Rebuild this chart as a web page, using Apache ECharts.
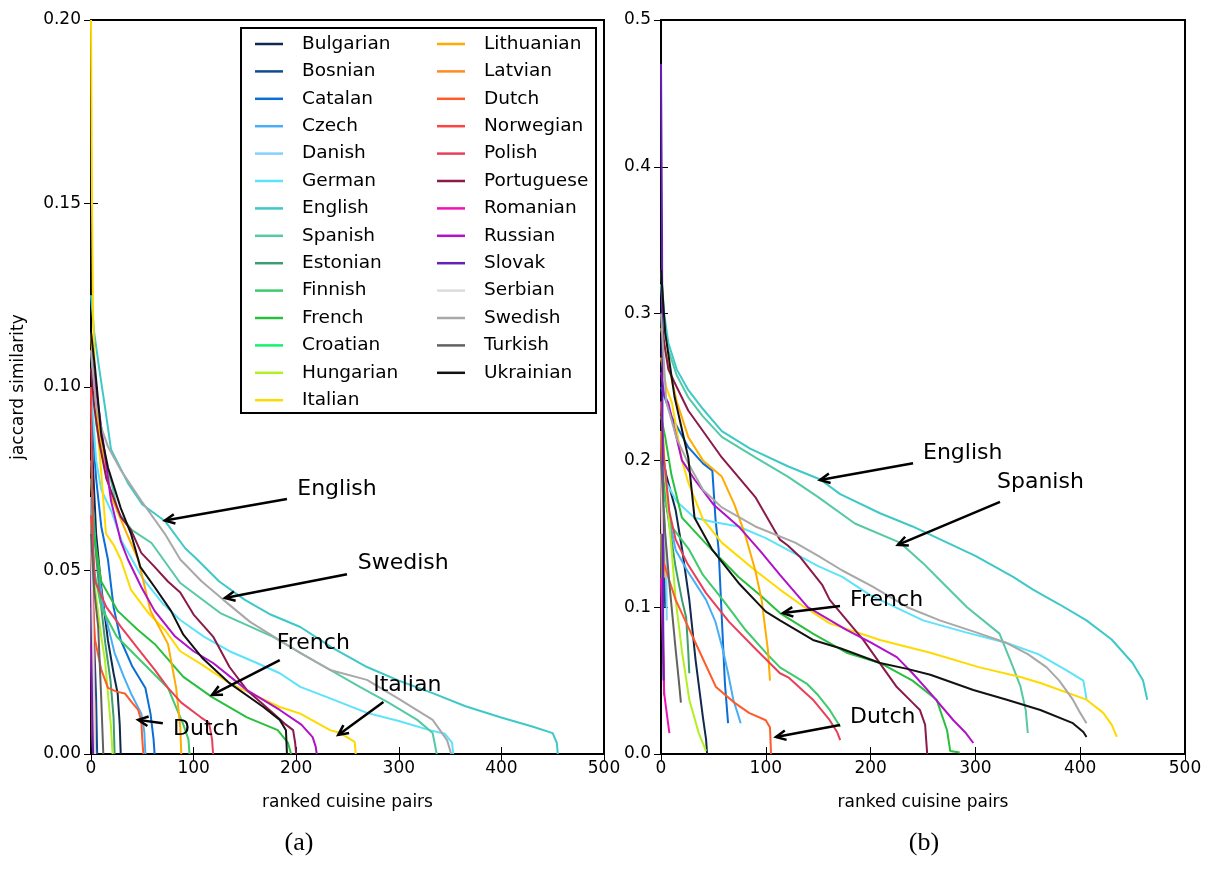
<!DOCTYPE html>
<html><head><meta charset="utf-8">
<script src="https://cdn.jsdelivr.net/npm/echarts@6/dist/echarts.min.js"></script>
<style>html,body{margin:0;padding:0;background:#fff}#c{width:1209px;height:886px}</style>
</head><body><div id="c"></div>
<script>
const names = ['Bulgarian','Bosnian','Catalan','Czech','Danish','German','English','Spanish','Estonian','Finnish','French','Croatian','Hungarian','Italian','Lithuanian','Latvian','Dutch','Norwegian','Polish','Portuguese','Romanian','Russian','Slovak','Serbian','Swedish','Turkish','Ukrainian'];
const colors = ['#10294f','#0e4d8e','#0a6ed6','#4aaef5','#80d2fb','#5ce3fa','#3ec8c8','#55c9a6','#3f9b70','#3fca6b','#28c03c','#12f26c','#b2f023','#ffda00','#ffab00','#ff8a22','#ff5a2a','#ff4343','#e8405a','#8a1a4a','#f012b2','#b012c8','#6422b8','#dcdcdc','#a8a8a8','#616161','#121212'];
const xTicks = [0,100,200,300,400,500];
const yTicksA = [0,0.05,0.10,0.15,0.20];
const yTicksB = [0,0.1,0.2,0.3,0.4,0.5];

// panel (a): [rank, jaccard]
const A_Bulgarian = [[0,0.09],[5,0.06],[10,0.0455],[16.5,0.031],[22,0.022],[26,0.0165],[28,0.008],[29,0]];
const A_Bosnian = [[0,0.07],[2,0.04],[5,0.015],[6,0]];
const A_Catalan = [[0,0.095],[5,0.075],[10,0.062],[16.5,0.053],[22,0.04],[29,0.031],[40,0.024],[53,0.018],[58,0.011],[61,0.004],[62,0]];
const A_Czech = [[0,0.075],[5,0.055],[12,0.04],[23,0.0275],[32,0.021],[39,0.0165],[49,0.011],[52,0.006],[53,0]];
const A_Danish = [[0,0.07],[1,0.04],[2,0.015],[3,0]];
const A_German = [[0,0.1],[5,0.08],[10,0.072],[20,0.066],[30,0.058],[50,0.048],[70,0.041],[87,0.0365],[110,0.032],[135,0.028],[160,0.025],[184,0.022],[204,0.0183],[230,0.0155],[269,0.0112],[300,0.009],[330,0.0065],[345,0.0055],[352,0.003],[353,0]];
const A_English = [[0,0.125],[3,0.115],[8,0.105],[13.6,0.0946],[19.5,0.083],[36,0.0738],[50,0.068],[72,0.0635],[92,0.056],[101,0.0537],[125,0.047],[150,0.042],[175,0.038],[204,0.0346],[235,0.029],[269,0.0237],[300,0.02],[333,0.0166],[365,0.013],[399,0.010],[430,0.0075],[450,0.0057],[454,0.003],[455,0]];
const A_Spanish = [[0,0.11],[5,0.09],[12,0.08],[20,0.074],[26,0.066],[40,0.061],[59,0.0575],[87,0.0466],[126,0.0384],[177,0.032],[220,0.025],[262,0.0183],[290,0.014],[318,0.0093],[333,0.0057],[337,0]];
const A_Estonian = [[0,0.08],[3,0.06],[8,0.045],[14,0.03],[19,0.02],[22,0.01],[23,0]];
const A_Finnish = [[0,0.065],[3,0.05],[10,0.04],[25,0.032],[50,0.025],[75,0.018],[90,0.008],[95,0.004],[96,0]];
const A_French = [[0,0.075],[3,0.06],[10,0.047],[26,0.039],[45,0.034],[62,0.030],[90,0.021],[118,0.0155],[152,0.010],[182,0.0065],[192,0.003],[195,0]];
const A_Croatian = [[0,0.04],[1,0.02],[2,0]];
const A_Hungarian = [[0,0.065],[4,0.045],[10,0.032],[13.6,0.0256],[17,0.015],[19.5,0.0074],[21,0]];
const A_Italian = [[0,0.2],[1,0.15],[2,0.12],[5,0.093],[10,0.0766],[14.6,0.06],[22,0.057],[29,0.053],[39,0.0447],[56,0.0384],[72,0.0338],[87,0.028],[110,0.024],[135,0.0193],[160,0.016],[184,0.0128],[204,0.011],[233,0.0065],[243,0.0057],[257,0.0033],[258,0]];
const A_Lithuanian = [[0,0.115],[3,0.1],[10,0.085],[20,0.07],[35,0.06],[46,0.053],[58,0.039],[75,0.030],[83,0.018],[87,0.0074],[88,0]];
const A_Latvian = [[0,0.05],[1,0.02],[2,0]];
const A_Dutch = [[0,0.055],[2,0.04],[4,0.031],[10,0.023],[16.5,0.018],[25,0.017],[33,0.0165],[40,0.014],[46,0.012],[49,0.009],[50,0.004],[51,0]];
const A_Norwegian = [[0,0.1],[2,0.05],[3,0.02],[4,0]];
const A_Polish = [[0,0.065],[4,0.047],[15,0.04],[29,0.0347],[45,0.029],[62,0.023],[75,0.018],[88,0.014],[107,0.010],[115,0.0085],[118,0.004],[119,0]];
const A_Portuguese = [[0,0.105],[3,0.095],[8,0.085],[15,0.075],[29,0.0646],[39,0.061],[49,0.0548],[62,0.051],[75,0.047],[87,0.044],[100,0.038],[119,0.032],[135,0.0237],[152,0.0174],[174,0.012],[190,0.008],[197,0.0065],[199,0.003],[200,0]];
const A_Romanian = [[0,0.03],[1,0.01],[2,0]];
const A_Russian = [[0,0.11],[4,0.101],[10,0.089],[19.5,0.069],[29,0.058],[36,0.053],[49,0.0455],[62,0.039],[82,0.032],[100,0.028],[119,0.0248],[152,0.0174],[184,0.012],[205,0.008],[216,0.0046],[219,0.002],[220,0]];
const A_Slovak = [[0,0.05],[1,0.02],[2,0]];
const A_Serbian = [[0,0.06],[2,0.03],[4,0]];
const A_Swedish = [[0,0.11],[5,0.095],[10,0.089],[16.6,0.0837],[29,0.0774],[49,0.069],[72,0.06],[87,0.053],[108,0.047],[129,0.042],[155,0.036],[184,0.031],[204,0.0275],[233,0.0229],[269,0.0202],[300,0.015],[333,0.0093],[347,0.0038],[350,0.001],[351,0]];
const A_Turkish = [[0,0.06],[3,0.045],[7,0.0346],[10,0.015],[12,0]];
const A_Ukrainian = [[0,0.115],[4,0.105],[10,0.087],[16.6,0.078],[29,0.067],[39,0.06],[48,0.051],[62,0.0455],[78,0.039],[90,0.0325],[109,0.026],[135,0.0193],[168,0.0128],[184,0.0093],[190,0.0065],[191,0]];

// panel (b): [rank, jaccard]
const B_Bulgarian = [[0,0.21],[5,0.19],[14,0.166],[20,0.14],[27,0.105],[33,0.064],[40,0.025],[43,0.01],[44,0]];
const B_Bosnian = [[0,0.2],[2,0.15],[4,0.1]];
const B_Catalan = [[0,0.25],[10,0.23],[26,0.209],[40,0.198],[49,0.193],[52,0.16],[55,0.139],[58,0.093],[61,0.048],[64,0.021]];
const B_Czech = [[0,0.2],[5,0.17],[14,0.139],[25,0.125],[43,0.105],[52,0.09],[59,0.071],[64,0.055],[69,0.037],[73,0.028],[76,0.021]];
const B_Danish = [[0,0.2],[2,0.17],[5,0.139],[5.5,0.091]];
const B_German = [[0,0.2],[5,0.185],[15,0.172],[32,0.161],[50,0.158],[74,0.155],[100,0.147],[121,0.139],[150,0.128],[173,0.1206],[200,0.108],[250,0.091],[290,0.083],[330,0.0756],[360,0.068],[387,0.057],[403,0.05],[405,0.042],[406,0.037]];
const B_English = [[0,0.33],[3,0.3],[7,0.28],[15,0.262],[26,0.248],[40,0.235],[58,0.22],[85,0.208],[121,0.196],[152,0.187],[171,0.177],[209,0.164],[240,0.155],[273,0.144],[300,0.135],[336,0.1206],[355,0.112],[380,0.102],[406,0.091],[430,0.078],[450,0.062],[460,0.05],[464,0.037]];
const B_Spanish = [[0,0.32],[3,0.29],[7,0.275],[15,0.258],[26,0.243],[40,0.23],[58,0.216],[90,0.202],[121,0.189],[150,0.175],[185,0.157],[228,0.144],[250,0.13],[266,0.1185],[292,0.10],[323,0.082],[336,0.059],[343,0.046],[348,0.03],[350,0.0143]];
const B_Estonian = [[0,0.2],[5,0.17],[14,0.127],[20,0.105],[24,0.093],[26,0.07],[27,0.055]];
const B_Finnish = [[0,0.2],[3,0.175],[10,0.155],[27,0.139],[40,0.122],[59,0.105],[80,0.085],[100,0.069],[113.5,0.059],[139,0.048],[150,0.04],[161,0.030],[168,0.022],[171,0.0185]];
const B_French = [[0,0.23],[4,0.216],[10,0.19],[20,0.161],[42,0.144],[74,0.1206],[95,0.108],[113.5,0.096],[145,0.082],[177,0.069],[209,0.062],[240,0.050],[263,0.037],[273,0.016],[276,0.002],[285,0.001]];
const B_Croatian = [[0,0.15],[1,0.1]];
const B_Hungarian = [[0,0.24],[5,0.18],[10,0.14],[14,0.105],[20,0.07],[27,0.037],[36,0.0143],[43,0.002]];
const B_Italian = [[0,0.27],[5,0.25],[10.5,0.239],[20,0.2],[26,0.185],[40,0.16],[58,0.144],[90,0.125],[113.5,0.112],[137,0.1],[161,0.089],[209,0.0777],[257,0.069],[304,0.059],[343,0.0525],[362,0.0484],[406,0.037],[422,0.028],[430,0.02],[435,0.0116]];
const B_Lithuanian = [[0,0.29],[4,0.275],[15,0.24],[26,0.216],[40,0.2],[58,0.189],[70,0.17],[80,0.15],[90,0.125],[96,0.105],[102,0.071],[104,0.050]];
const B_Latvian = [[0,0.22],[1,0.17],[3,0.12]];
const B_Dutch = [[0,0.2],[2,0.132],[8,0.118],[14,0.105],[33,0.0756],[52.5,0.0456],[70,0.035],[84,0.028],[100,0.023],[104,0.018],[105,0]];
const B_Norwegian = [[0,0.2],[1,0.13],[2,0.08],[3,0.04]];
const B_Polish = [[0,0.24],[3,0.2],[8,0.165],[14,0.146],[25,0.13],[43,0.1096],[65,0.09],[91,0.071],[113.5,0.055],[122,0.052],[145,0.037],[161,0.023],[168,0.015],[171,0.0095]];
const B_Portuguese = [[0,0.3],[3,0.28],[7,0.262],[15,0.25],[26,0.234],[40,0.22],[58,0.202],[90,0.175],[113.5,0.146],[121,0.142],[133,0.134],[154,0.115],[161,0.105],[193,0.0777],[225,0.0456],[240,0.035],[247,0.030],[252,0.02],[254,0]];
const B_Romanian = [[0,0.12],[2,0.07],[3,0.0415],[6,0.025],[8,0.0143]];
const B_Russian = [[0,0.26],[3,0.245],[7,0.239],[20,0.2],[32,0.187],[50,0.17],[74,0.155],[95,0.138],[113.5,0.122],[140,0.1],[177,0.0845],[200,0.076],[225,0.066],[240,0.055],[257,0.0415],[279,0.023],[290,0.015],[298,0.0075]];
const B_Slovak = [[0,0.47],[1,0.35],[1.5,0.2],[2,0.1],[2.5,0.05]];
const B_Serbian = [[0,0.2],[1,0.15]];
const B_Swedish = [[0,0.3],[5,0.24],[15,0.215],[26,0.198],[40,0.18],[58,0.168],[90,0.155],[128,0.144],[150,0.135],[173,0.125],[202,0.114],[235,0.1],[266,0.091],[300,0.083],[330,0.0756],[350,0.068],[368,0.059],[380,0.05],[393,0.037],[400,0.028],[406,0.021]];
const B_Turkish = [[0,0.2],[4,0.15],[8,0.116],[14,0.071],[17,0.05],[19,0.035]];
const B_Ukrainian = [[0,0.33],[4,0.287],[13,0.243],[26,0.202],[32,0.161],[49,0.139],[74,0.1165],[100,0.097],[113.5,0.091],[145,0.0777],[171,0.072],[209,0.062],[235,0.058],[257,0.054],[298,0.0436],[330,0.037],[362,0.030],[393,0.021],[403,0.015],[406,0.0116]];

const panelA = [A_Bulgarian,A_Bosnian,A_Catalan,A_Czech,A_Danish,A_German,A_English,A_Spanish,A_Estonian,A_Finnish,A_French,A_Croatian,A_Hungarian,A_Italian,A_Lithuanian,A_Latvian,A_Dutch,A_Norwegian,A_Polish,A_Portuguese,A_Romanian,A_Russian,A_Slovak,A_Serbian,A_Swedish,A_Turkish,A_Ukrainian];
const panelB = [B_Bulgarian,B_Bosnian,B_Catalan,B_Czech,B_Danish,B_German,B_English,B_Spanish,B_Estonian,B_Finnish,B_French,B_Croatian,B_Hungarian,B_Italian,B_Lithuanian,B_Latvian,B_Dutch,B_Norwegian,B_Polish,B_Portuguese,B_Romanian,B_Russian,B_Slovak,B_Serbian,B_Swedish,B_Turkish,B_Ukrainian];

// annotations in data coordinates
const annotA = [
  {label:'English', at:[201,0.072], tail:[191,0.0695], head:[72,0.0636]},
  {label:'Swedish', at:[260,0.052], tail:[249.5,0.049], head:[130.6,0.0425]},
  {label:'French', at:[181,0.0302], tail:[184,0.0256], head:[118,0.0161]},
  {label:'Italian', at:[275,0.0188], tail:[285,0.0142], head:[241,0.0052]},
  {label:'Dutch', at:[80,0.0068], tail:[70,0.0084], head:[46,0.0093]}
];
const annotB = [
  {label:'English', at:[250,0.205], tail:[240.5,0.198], head:[151.7,0.1866]},
  {label:'Spanish', at:[320.6,0.185], tail:[323.5,0.1717], head:[226,0.1424]},
  {label:'French', at:[180.3,0.105], tail:[170.8,0.1008], head:[116.4,0.096]},
  {label:'Dutch', at:[180.3,0.0252], tail:[170.8,0.0198], head:[109.7,0.0116]}
];

const FONT = 'DejaVu Sans';
function xAx(grid, pos, labels) {
  return {type:'value', gridIndex:grid, position:pos, min:0, max:500, interval:100,
    axisLine:{show:false}, splitLine:{show:false},
    axisTick:{show:true, inside:true, length:7, lineStyle:{color:'#000', width:1}},
    axisLabel:{show:labels, margin:6, fontFamily:FONT, fontSize:17, color:'#000'},
    name: labels ? 'ranked cuisine pairs' : '', nameLocation:'middle', nameGap:40,
    nameTextStyle:{fontFamily:FONT, fontSize:17, color:'#000'}};
}
function yAx(grid, pos, labels, max, interval, dec, nm) {
  return {type:'value', gridIndex:grid, position:pos, min:0, max:max, interval:interval,
    axisLine:{show:false}, splitLine:{show:false},
    axisTick:{show:true, inside:true, length:7, lineStyle:{color:'#000', width:1}},
    axisLabel:{show:labels, margin:10, fontFamily:FONT, fontSize:17, color:'#000', formatter:v=>v.toFixed(dec)},
    name: nm, nameLocation:'middle', nameGap:64, nameRotate:90,
    nameTextStyle:{fontFamily:FONT, fontSize:17, color:'#000'}};
}

const series = [];
names.forEach((n,i)=>{
  series.push({name:n, type:'line', xAxisIndex:0, yAxisIndex:0, data:panelA[i], showSymbol:false, symbol:'none',
    lineStyle:{color:colors[i], width:2}, itemStyle:{color:colors[i]}, z:2+i, silent:true});
});
names.forEach((n,i)=>{
  series.push({name:n, type:'line', xAxisIndex:2, yAxisIndex:2, data:panelB[i], showSymbol:false, symbol:'none',
    lineStyle:{color:colors[i], width:2}, itemStyle:{color:colors[i]}, z:2+i, silent:true});
});

const legendCommon = {orient:'vertical', icon:'rect', itemWidth:28, itemHeight:2.5, itemGap:0, padding:0,
  textStyle:{fontFamily:FONT, fontSize:18.5, color:'#000', lineHeight:27.4, padding:[0,0,0,14]}, selectedMode:false};

const option = {
  animation:false,
  backgroundColor:'#fff',
  grid:[
    {left:91, top:20, width:513, height:734, show:true, borderColor:'#000', borderWidth:2, backgroundColor:'transparent'},
    {left:661, top:20, width:524, height:734, show:true, borderColor:'#000', borderWidth:2, backgroundColor:'transparent'}
  ],
  xAxis:[xAx(0,'bottom',true), xAx(0,'top',false), xAx(1,'bottom',true), xAx(1,'top',false)],
  yAxis:[yAx(0,'left',true,0.2,0.05,2,'jaccard similarity'), yAx(0,'right',false,0.2,0.05,2,''),
         yAx(1,'left',true,0.5,0.1,1,''), yAx(1,'right',false,0.5,0.1,1,'')],
  legend:[
    Object.assign({left:255, top:30.3, data:names.slice(0,14)}, legendCommon),
    Object.assign({left:437, top:30.3, data:names.slice(14)}, legendCommon)
  ],
  series:series
};

const chart = echarts.init(document.getElementById('c'));
chart.setOption(option);

function toPx(g, p){ return chart.convertToPixel({xAxisIndex:g*2, yAxisIndex:g*2}, p); }
const graphics = [];
function addAnnot(g, list){
  list.forEach(a=>{
    const t = toPx(g, a.at), p1 = toPx(g, a.tail), p2 = toPx(g, a.head);
    graphics.push({type:'text', x:t[0], y:t[1], z:100, style:{text:a.label, font:'22px "DejaVu Sans"', fill:'#000', align:'left', verticalAlign:'middle'}});
    graphics.push({type:'line', z:100, shape:{x1:p1[0], y1:p1[1], x2:p2[0], y2:p2[1]}, style:{stroke:'#000', lineWidth:2.5}});
    const ang = Math.atan2(p1[1]-p2[1], p1[0]-p2[0]);
    const L = 11, s = 0.45;
    graphics.push({type:'polyline', z:100, shape:{points:[[p2[0]+L*Math.cos(ang+s), p2[1]+L*Math.sin(ang+s)],[p2[0],p2[1]],[p2[0]+L*Math.cos(ang-s), p2[1]+L*Math.sin(ang-s)]]}, style:{stroke:'#000', lineWidth:2.5, fill:null}});
  });
}
addAnnot(0, annotA);
addAnnot(1, annotB);
graphics.push({type:'rect', z:90, shape:{x:241, y:28, width:355, height:385}, style:{fill:'rgba(255,255,255,0)', stroke:'#000', lineWidth:2}});
graphics.push({type:'rect', z:1, shape:{x:241, y:28, width:355, height:385}, style:{fill:'#fff'}});
graphics.push({type:'text', x:299, y:843, style:{text:'(a)', font:'26px "Liberation Serif"', fill:'#000', align:'center', verticalAlign:'middle'}});
graphics.push({type:'text', x:924, y:843, style:{text:'(b)', font:'26px "Liberation Serif"', fill:'#000', align:'center', verticalAlign:'middle'}});
chart.setOption({graphic:graphics});
</script></body></html>
